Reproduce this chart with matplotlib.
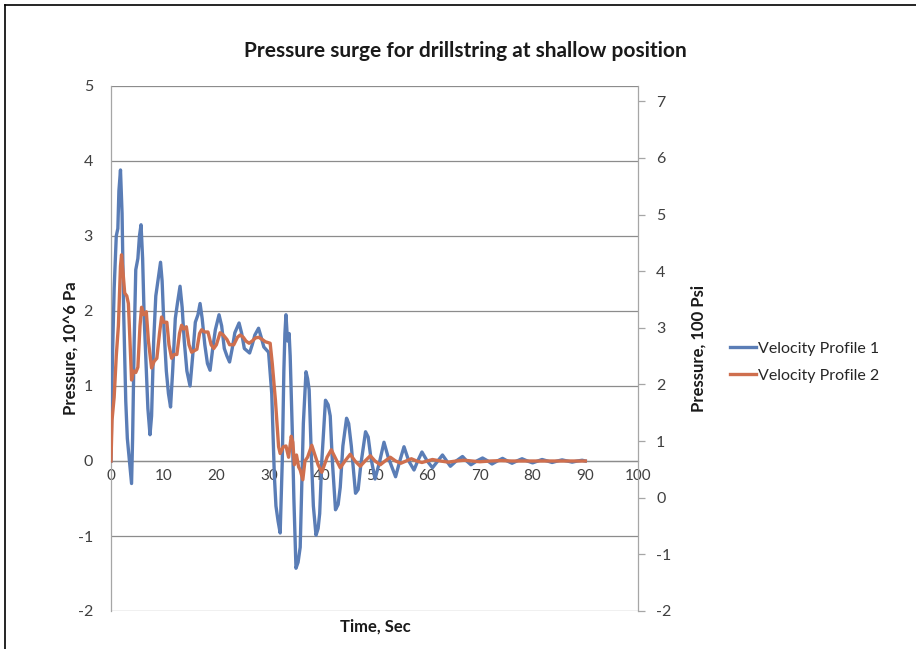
import matplotlib
matplotlib.use("Agg")
import matplotlib.pyplot as plt
from matplotlib.lines import Line2D

plt.rcParams['font.family'] = ['Lato', 'DejaVu Sans']
plt.rcParams['axes.unicode_minus'] = False

# Velocity Profile 1: time (s) and pressure (10^6 Pa)
t_vp1 = [0.0, 0.25, 0.6, 1.0, 1.3, 1.5, 1.8, 2.1, 2.4, 2.8, 3.1, 3.5, 3.9, 4.1, 4.4, 4.7,
         5.1, 5.4, 5.7, 6.0, 6.3, 6.7, 7.0, 7.4, 7.7, 8.1, 8.5, 9.0, 9.4, 9.7, 10.1, 10.5,
         10.9, 11.3, 11.7, 12.2, 12.6, 13.1, 13.5, 13.9, 14.4, 15.0, 15.5, 16.0, 16.5, 16.9,
         17.3, 17.8, 18.3, 18.8, 19.3, 19.8, 20.5, 21.0, 21.5, 22.0, 22.5, 23.0, 23.5, 24.3,
         24.8, 25.3, 26.3, 26.8, 27.3, 28.0, 28.5, 29.0, 29.9, 30.5, 31.0, 31.3, 31.7, 32.1,
         32.5, 32.8, 33.0, 33.2, 33.5, 33.8, 34.0, 34.4, 34.7, 35.1, 35.5, 35.9, 36.2, 36.5,
         37.0, 37.3, 37.6, 38.0, 38.4, 38.9, 39.3, 39.6, 40.0, 40.7, 41.2, 41.6, 42.0, 42.6,
         43.1, 43.5, 44.0, 44.7, 45.1, 45.6, 46.4, 46.9, 47.4, 48.3, 48.8, 49.3, 50.1, 51.0,
         51.8, 52.6, 54.0, 54.8, 55.6, 56.5, 57.5, 58.2, 59.0, 60.0, 61.0, 62.0, 62.9, 63.7,
         64.4, 65.5, 66.7, 67.5, 68.3, 69.4, 70.5, 71.5, 72.3, 73.3, 74.3, 75.2, 76.1, 77.0,
         78.0, 79.0, 80.0, 81.0, 81.8, 82.8, 83.7, 84.7, 85.6, 86.6, 87.5, 88.5, 89.4, 90.0]
p_vp1 = [0.0, 1.3, 2.3, 3.0, 3.1, 3.6, 3.88, 3.3, 2.0, 0.8, 0.3, 0.0, -0.3, 0.3, 1.6, 2.55,
         2.7, 3.0, 3.15, 2.7, 1.9, 1.2, 0.7, 0.35, 0.6, 1.6, 2.2, 2.45, 2.65, 2.4, 1.7, 1.2,
         0.9, 0.72, 1.2, 1.9, 2.1, 2.33, 2.05, 1.6, 1.2, 1.0, 1.4, 1.85, 1.95, 2.1,
         1.9, 1.55, 1.3, 1.21, 1.5, 1.75, 1.95, 1.8, 1.5, 1.4, 1.32, 1.5, 1.71, 1.84,
         1.7, 1.5, 1.44, 1.55, 1.68, 1.77, 1.65, 1.52, 1.45, 0.9, -0.2, -0.6, -0.8, -0.96,
         0.0, 1.2, 1.7, 1.95, 1.6, 1.7, 1.4, 0.4, -0.5, -1.43, -1.35, -1.15, -0.3, 0.5,
         1.19, 1.1, 0.95, 0.1, -0.6, -0.99, -0.9, -0.7, 0.0, 0.81, 0.75, 0.6, 0.0, -0.65,
         -0.58, -0.35, 0.2, 0.57, 0.5, 0.2, -0.43, -0.38, -0.05, 0.39, 0.32, 0.05, -0.24, 0.0,
         0.25, 0.05, -0.21, 0.0, 0.19, 0.0, -0.12, 0.0, 0.12, 0.0, -0.09, 0.0, 0.08, 0.0,
         -0.07, 0.0, 0.06, 0.0, -0.05, 0.0, 0.04, 0.0, -0.04, 0.0, 0.035, 0.0, -0.03, 0.0,
         0.03, 0.0, -0.025, 0.0, 0.02, 0.0, -0.02, 0.0, 0.015, 0.0, -0.015, 0.0, 0.01, 0.0]

# Velocity Profile 2: time (s) and pressure (10^6 Pa)
t_vp2 = [0.0, 0.2, 0.6, 1.0, 1.4, 1.8, 2.0, 2.3, 2.6, 3.0, 3.3, 3.6, 3.9, 4.3, 4.7, 5.1,
         5.5, 5.8, 6.2, 6.7, 7.1, 7.7, 8.2, 8.7, 9.2, 9.6, 10.0, 10.6, 11.0, 11.5, 12.0,
         12.5, 13.0, 13.4, 13.8, 14.3, 14.8, 15.3, 15.8, 16.3, 16.8, 17.2, 17.8, 18.4, 19.0,
         19.5, 20.0, 20.7, 21.3, 22.0, 22.5, 23.3, 24.0, 24.5, 25.1, 25.6, 26.2, 26.8, 27.4,
         28.0, 28.7, 29.3, 30.2, 30.6, 31.2, 31.8, 32.1, 32.7, 33.2, 33.7, 34.2, 34.5, 34.8,
         35.2, 35.6, 35.9, 36.4, 36.8, 37.3, 38.1, 38.6, 39.3, 40.0, 40.5, 41.0, 41.8, 42.5,
         43.5, 44.4, 45.4, 46.3, 47.3, 48.2, 49.2, 50.1, 51.1, 52.0, 53.0, 54.0, 55.0, 56.0,
         57.0, 58.0, 59.0, 60.0, 61.0, 62.5, 64.0, 65.5, 67.0, 68.5, 70.0, 72.0, 74.0, 76.0,
         80.0, 85.0, 90.0]
p_vp2 = [0.0, 0.55, 0.85, 1.4, 1.8, 2.6, 2.75, 2.5, 2.24, 2.2, 2.1, 1.6, 1.08, 1.2, 1.18, 1.25,
         1.8, 2.05, 1.95, 1.99, 1.6, 1.24, 1.33, 1.37, 1.7, 1.92, 1.85, 1.85, 1.55, 1.37, 1.42,
         1.42, 1.7, 1.81, 1.76, 1.79, 1.55, 1.45, 1.47, 1.49, 1.7, 1.75, 1.72, 1.72, 1.55,
         1.5, 1.55, 1.71, 1.68, 1.62, 1.55, 1.55, 1.65, 1.68, 1.65, 1.6, 1.57, 1.6, 1.64,
         1.65, 1.62, 1.59, 1.57, 1.3, 0.81, 0.19, 0.1, 0.19, 0.2, 0.05, 0.33, 0.25, -0.05,
         0.08, -0.08, -0.12, -0.25, 0.0, 0.05, 0.21, 0.1, -0.05, -0.15, -0.05, 0.05, 0.15, 0.05,
         -0.09, 0.0, 0.09, 0.0, -0.07, 0.0, 0.07, 0.0, -0.05, 0.0, 0.05, 0.0, -0.03, 0.0,
         0.03, 0.0, -0.02, 0.0, 0.02, 0.0, -0.015, 0.0, 0.01, 0.0, -0.01, 0.0, 0.005, 0.0,
         0.0, 0.0, 0.0]

x_ticks = [0, 10, 20, 30, 40, 50, 60, 70, 80, 90, 100]
left_ticks = [-2, -1, 0, 1, 2, 3, 4, 5]
right_ticks = [-2, -1, 0, 1, 2, 3, 4, 5, 6, 7]

BLUE = '#5a7db6'
ORANGE = '#cf6f4e'
GRID = '#8c8c8c'
TXT = '#404040'

fig = plt.figure(figsize=(9.16, 6.49), dpi=100)
ax = fig.add_axes([111 / 916, 1 - 611 / 649, (638 - 111) / 916, (611 - 86) / 649])

ax.plot(t_vp1, p_vp1, color=BLUE, lw=2.4, label='Velocity Profile 1', zorder=3)
ax.plot(t_vp2, p_vp2, color=ORANGE, lw=2.4, label='Velocity Profile 2', zorder=4)

ax.set_xlim(0, 100)
ax.set_ylim(-2, 5)
ax.set_yticks(left_ticks)
ax.set_xticks(x_ticks)
ax.yaxis.grid(True, color=GRID, lw=0.9)
ax.set_axisbelow(True)

for side in ('top', 'right'):
    ax.spines[side].set_visible(False)
ax.spines['left'].set_color('#a6a6a6')
ax.spines['left'].set_linewidth(0.9)
ax.spines['bottom'].set_position(('data', 0))
ax.spines['bottom'].set_color(GRID)
ax.spines['bottom'].set_linewidth(0.9)
ax.tick_params(axis='x', length=0, pad=6, labelsize=11, labelcolor=TXT)
ax.tick_params(axis='y', length=0, pad=13, labelsize=11.5, labelcolor=TXT)

ax.set_ylabel('Pressure, 10^6 Pa', fontsize=12, fontweight='bold', labelpad=-1, color='#1a1a1a')
fig.text(375 / 916, 1 - 627 / 649, 'Time, Sec', ha='center', va='center',
         fontsize=12, fontweight='bold', color='#1a1a1a')

ax2 = ax.twinx()
ax2.set_ylim(-2, 7.27)
ax2.set_yticks(right_ticks)
for side in ('top', 'left', 'bottom'):
    ax2.spines[side].set_visible(False)
ax2.spines['right'].set_color('#a6a6a6')
ax2.spines['right'].set_linewidth(0.9)
ax2.tick_params(axis='y', direction='out', length=5, width=0.9, color='#a6a6a6',
                pad=8, labelsize=11.5, labelcolor=TXT)
ax2.set_ylabel('Pressure, 100 Psi', fontsize=12, fontweight='bold', labelpad=14, color='#1a1a1a')

fig.text(465 / 916, 1 - 51 / 649, 'Pressure surge for drillstring at shallow position',
         ha='center', va='center', fontsize=15, fontweight='bold', color='#1a1a1a')

leg = ax.legend(loc='center left', bbox_to_anchor=(724 / 916, 1 - 362 / 649),
                bbox_transform=fig.transFigure, frameon=False, fontsize=11.5,
                handlelength=1.6, handletextpad=0.15, labelspacing=0.8, borderaxespad=0)
for txt in leg.get_texts():
    txt.set_color('#262626')

fig.add_artist(Line2D([5 / 916, 5 / 916], [0, 1 - 5 / 649], color='black', lw=1.2))
fig.add_artist(Line2D([5 / 916, 1], [1 - 5 / 649, 1 - 5 / 649], color='black', lw=1.2))

fig.savefig('out.png', dpi=100)
